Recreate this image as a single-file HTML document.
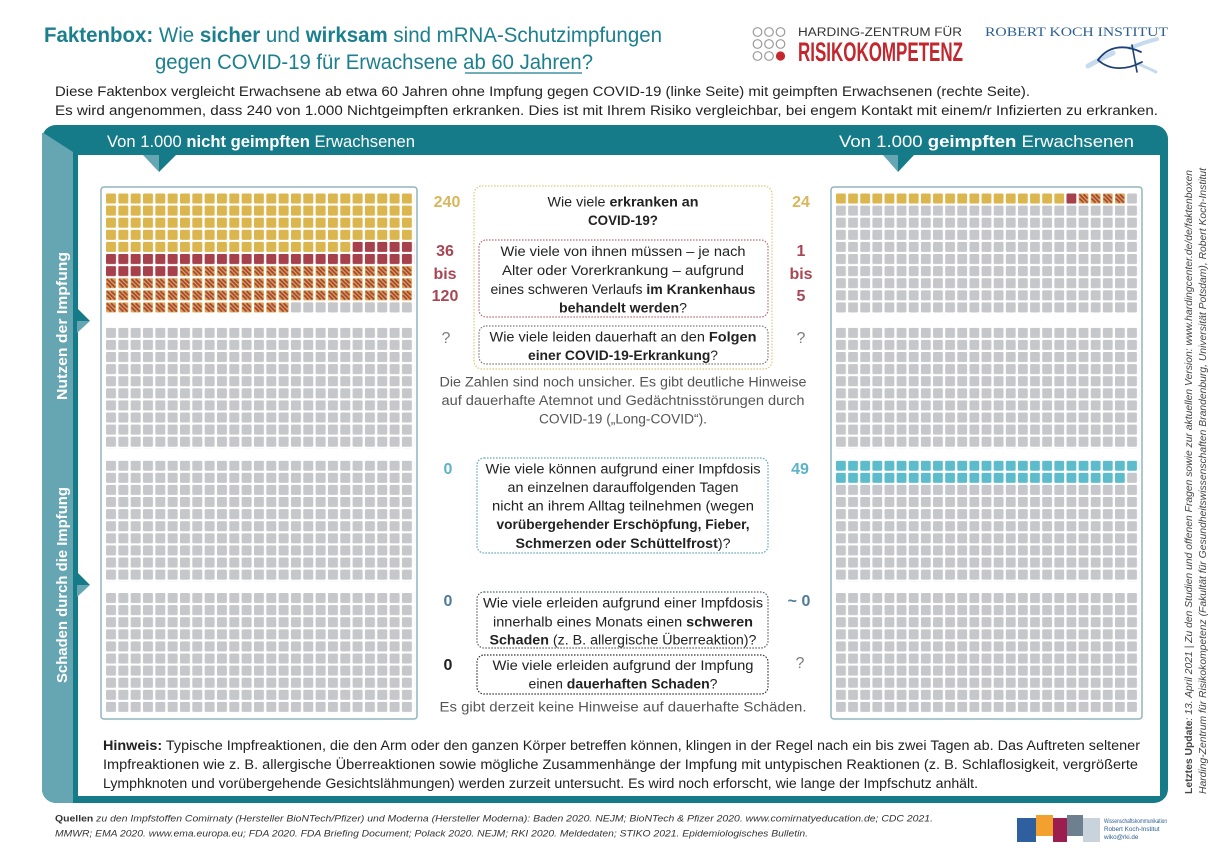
<!DOCTYPE html>
<html><head><meta charset="utf-8"><style>
html,body{margin:0;padding:0;background:#fff;}
svg{display:block;}
text{font-family:"Liberation Sans",sans-serif;}
</style></head><body>
<svg width="1224" height="858" viewBox="0 0 1224 858" xmlns="http://www.w3.org/2000/svg">
<defs>
<pattern id="pG" width="12.33" height="12.1" patternUnits="userSpaceOnUse"><rect width="10" height="10" rx="1.3" fill="#c6c7ca"/></pattern>
<pattern id="pY" width="12.33" height="12.1" patternUnits="userSpaceOnUse"><rect width="10" height="10" rx="1.3" fill="#dbb64f"/></pattern>
<pattern id="pR" width="12.33" height="12.1" patternUnits="userSpaceOnUse"><rect width="10" height="10" rx="1" fill="#a6414b"/></pattern>
<pattern id="pC" width="12.33" height="12.1" patternUnits="userSpaceOnUse"><rect width="10" height="10" rx="1.3" fill="#5dbccc"/></pattern>
<pattern id="pH" width="12.33" height="12.1" patternUnits="userSpaceOnUse"><rect width="10" height="10" rx="1" fill="#dba553"/><path d="M0.8,0.8 L9.2,9.2 M0.8,5 L5,9.2 M5,0.8 L9.2,5" stroke="#a3423c" stroke-width="1.7" fill="none"/></pattern>
</defs>

<!-- Title -->
<text x="44" y="42" font-size="21" fill="#1c7f8e" textLength="618" lengthAdjust="spacingAndGlyphs"><tspan font-weight="bold">Faktenbox:</tspan> Wie <tspan font-weight="bold">sicher</tspan> und <tspan font-weight="bold">wirksam</tspan> sind mRNA-Schutzimpfungen</text>
<text x="155" y="69" font-size="21" fill="#1c7f8e" textLength="438" lengthAdjust="spacingAndGlyphs">gegen COVID-19 für Erwachsene ab 60 Jahren?</text>
<line x1="465" y1="73" x2="582" y2="73" stroke="#1c7f8e" stroke-width="1.3"/>

<!-- Harding logo -->
<g fill="none" stroke="#9a9a9a" stroke-width="1.2">
<circle cx="757.5" cy="32" r="4.3"/><circle cx="769" cy="32" r="4.3"/><circle cx="780.5" cy="32" r="4.3"/>
<circle cx="757.5" cy="44" r="4.3"/><circle cx="769" cy="44" r="4.3"/><circle cx="780.5" cy="44" r="4.3"/>
<circle cx="757.5" cy="56" r="4.3"/><circle cx="769" cy="56" r="4.3"/>
</g>
<circle cx="780.5" cy="56" r="4.6" fill="#c6282f"/>
<text x="798" y="36" font-size="11.5" fill="#333" textLength="164" lengthAdjust="spacingAndGlyphs">HARDING-ZENTRUM FÜR</text>
<text x="798" y="61" font-size="27" font-weight="bold" fill="#c1272d" textLength="165" lengthAdjust="spacingAndGlyphs">RISIKOKOMPETENZ</text>

<!-- RKI logo -->
<text x="985" y="36" font-size="13" fill="#2b5f93" style="font-family:'Liberation Serif',serif" textLength="183" lengthAdjust="spacingAndGlyphs">ROBERT KOCH INSTITUT</text>
<g fill="none" stroke-linecap="round">
<path d="M1088,66 Q1100,59 1113,53" stroke="#bcd5ea" stroke-width="5" opacity="0.85"/>
<path d="M1130,48 Q1145,42 1157,39" stroke="#bcd5ea" stroke-width="4" opacity="0.85"/>
<path d="M1136,63 Q1148,68 1156,72" stroke="#bcd5ea" stroke-width="3" opacity="0.85"/>
<path d="M1098,60 C1108,46 1124,44 1141,52" stroke="#1d3f78" stroke-width="1.8"/>
<path d="M1098,60 C1110,71 1127,70 1142,62" stroke="#1d3f78" stroke-width="1.8"/>
<path d="M1132,45 L1137,72" stroke="#1d3f78" stroke-width="1.6"/>
</g>

<!-- Subtitles -->
<text x="55" y="96" font-size="13.5" fill="#222" textLength="975" lengthAdjust="spacingAndGlyphs">Diese Faktenbox vergleicht Erwachsene ab etwa 60 Jahren ohne Impfung gegen COVID-19 (linke Seite) mit geimpften Erwachsenen (rechte Seite).</text>
<text x="55" y="115" font-size="13.5" fill="#222" textLength="1103" lengthAdjust="spacingAndGlyphs">Es wird angenommen, dass 240 von 1.000 Nichtgeimpften erkranken. Dies ist mit Ihrem Risiko vergleichbar, bei engem Kontakt mit einem/r Infizierten zu erkranken.</text>

<!-- Frame -->
<rect x="42" y="125" width="1126" height="678" rx="14" fill="#167b89"/>
<rect x="78" y="155" width="1082" height="641" fill="#fff"/>
<path d="M43.5,133 L73,152 L73,803 L56,803 A14,14 0 0 1 42,789 L42,133 Z" fill="#66a5b2"/>
<polygon points="143,155 159,155 159,172" fill="#66a5b2"/>
<polygon points="159,155 176,155 159,172" fill="#167b89"/>
<polygon points="883,155 898,155 898,172" fill="#66a5b2"/>
<polygon points="898,155 914,155 898,172" fill="#167b89"/>
<polygon points="77,308 90,321 77,321" fill="#167b89"/>
<polygon points="77,321 90,321 77,333" fill="#66a5b2"/>
<polygon points="77,572 90,585 77,585" fill="#167b89"/>
<polygon points="77,585 90,585 77,597" fill="#66a5b2"/>

<text x="107" y="147" font-size="17" fill="#fff" textLength="308" lengthAdjust="spacingAndGlyphs">Von 1.000 <tspan font-weight="bold">nicht geimpften</tspan> Erwachsenen</text>
<text x="839" y="147" font-size="17" fill="#fff" textLength="295" lengthAdjust="spacingAndGlyphs">Von 1.000 <tspan font-weight="bold">geimpften</tspan> Erwachsenen</text>

<text transform="translate(67,326) rotate(-90)" text-anchor="middle" font-size="15" font-weight="bold" fill="#fff" textLength="148" lengthAdjust="spacingAndGlyphs">Nutzen der Impfung</text>
<text transform="translate(67,585) rotate(-90)" text-anchor="middle" font-size="15" font-weight="bold" fill="#fff" textLength="196" lengthAdjust="spacingAndGlyphs">Schaden durch die Impfung</text>

<!-- Grid boxes -->
<rect x="101" y="187" width="316" height="532" rx="3" fill="#fff" stroke="#8fb5bd" stroke-width="1.5"/>
<rect x="831" y="187" width="311" height="532" rx="3" fill="#fff" stroke="#8fb5bd" stroke-width="1.5"/>

<!-- Left grid -->
<g transform="translate(106,193.5)">
<rect x="0" y="0" width="308.25" height="48.4" fill="url(#pY)"/>
<rect x="0" y="48.4" width="246.6" height="12.1" fill="url(#pY)"/>
<rect x="246.6" y="48.4" width="61.65" height="12.1" fill="url(#pR)"/>
<rect x="0" y="60.5" width="308.25" height="12.1" fill="url(#pR)"/>
<rect x="0" y="72.6" width="73.98" height="12.1" fill="url(#pR)"/>
<rect x="73.98" y="72.6" width="234.27" height="12.1" fill="url(#pH)"/>
<rect x="0" y="84.7" width="308.25" height="24.2" fill="url(#pH)"/>
<rect x="0" y="108.9" width="184.95" height="12.1" fill="url(#pH)"/>
<rect x="184.95" y="108.9" width="123.3" height="12.1" fill="url(#pG)"/>
</g>
<g transform="translate(106,327.8)"><rect width="308.25" height="121" fill="url(#pG)"/></g>
<g transform="translate(106,460.7)"><rect width="308.25" height="121" fill="url(#pG)"/></g>
<g transform="translate(106,593)"><rect width="308.25" height="121" fill="url(#pG)"/></g>

<!-- Right grid -->
<g transform="translate(836,193.5) scale(0.9838,1)">
<rect x="0" y="0" width="234.27" height="12.1" fill="url(#pY)"/>
<rect x="234.27" y="0" width="12.33" height="12.1" fill="url(#pR)"/>
<rect x="246.6" y="0" width="49.32" height="12.1" fill="url(#pH)"/>
<rect x="295.92" y="0" width="12.33" height="12.1" fill="url(#pG)"/>
<rect x="0" y="12.1" width="308.25" height="108.9" fill="url(#pG)"/>
</g>
<g transform="translate(836,327.8) scale(0.9838,1)"><rect width="308.25" height="121" fill="url(#pG)"/></g>
<g transform="translate(836,460.7) scale(0.9838,1)">
<rect x="0" y="0" width="308.25" height="12.1" fill="url(#pC)"/>
<rect x="0" y="12.1" width="295.92" height="12.1" fill="url(#pC)"/>
<rect x="295.92" y="12.1" width="12.33" height="12.1" fill="url(#pG)"/>
<rect x="0" y="24.2" width="308.25" height="96.8" fill="url(#pG)"/>
</g>
<g transform="translate(836,593) scale(0.9838,1)"><rect width="308.25" height="121" fill="url(#pG)"/></g>

<!-- Middle boxes -->
<g fill="none" stroke-width="1.2" stroke-dasharray="1.5 1.5">
<rect x="474" y="186" width="298" height="183" rx="8" stroke="#e0c77e"/>
<rect x="479" y="240" width="289" height="77" rx="7" stroke="#b86a72"/>
<rect x="479" y="326" width="289" height="38" rx="7" stroke="#7a7a7a"/>
<rect x="477" y="458" width="291" height="95" rx="7" stroke="#5ba7b8"/>
<rect x="477" y="592" width="291" height="56" rx="7" stroke="#55606e"/>
<rect x="477" y="655" width="291" height="39" rx="7" stroke="#333"/>
</g>

<g font-size="13.5" fill="#222" text-anchor="middle">
<text x="623" y="206.5" textLength="151" lengthAdjust="spacingAndGlyphs">Wie viele <tspan font-weight="bold">erkranken an</tspan></text>
<text x="623" y="225" textLength="70" lengthAdjust="spacingAndGlyphs" font-weight="bold">COVID-19?</text>
<text x="623" y="256" textLength="245" lengthAdjust="spacingAndGlyphs">Wie viele von ihnen müssen – je nach</text>
<text x="623" y="275" textLength="242" lengthAdjust="spacingAndGlyphs">Alter oder Vorerkrankung – aufgrund</text>
<text x="623" y="294" textLength="265" lengthAdjust="spacingAndGlyphs">eines schweren Verlaufs <tspan font-weight="bold">im Krankenhaus</tspan></text>
<text x="623" y="312.5" textLength="128" lengthAdjust="spacingAndGlyphs"><tspan font-weight="bold">behandelt werden</tspan>?</text>
<text x="623" y="341.5" textLength="267" lengthAdjust="spacingAndGlyphs">Wie viele leiden dauerhaft an den <tspan font-weight="bold">Folgen</tspan></text>
<text x="623" y="360" textLength="190" lengthAdjust="spacingAndGlyphs"><tspan font-weight="bold">einer COVID-19-Erkrankung</tspan>?</text>
<text x="623" y="386.5" fill="#555" textLength="367" lengthAdjust="spacingAndGlyphs">Die Zahlen sind noch unsicher. Es gibt deutliche Hinweise</text>
<text x="623" y="405" fill="#555" textLength="363" lengthAdjust="spacingAndGlyphs">auf dauerhafte Atemnot und Gedächtnisstörungen durch</text>
<text x="623" y="423.5" fill="#555" textLength="168" lengthAdjust="spacingAndGlyphs">COVID-19 („Long-COVID“).</text>
<text x="623" y="473.5" textLength="275" lengthAdjust="spacingAndGlyphs">Wie viele können aufgrund einer Impfdosis</text>
<text x="623" y="492" textLength="231" lengthAdjust="spacingAndGlyphs">an einzelnen darauffolgenden Tagen</text>
<text x="623" y="510.5" textLength="262" lengthAdjust="spacingAndGlyphs">nicht an ihrem Alltag teilnehmen (wegen</text>
<text x="623" y="529" textLength="253" lengthAdjust="spacingAndGlyphs" font-weight="bold">vorübergehender Erschöpfung, Fieber,</text>
<text x="623" y="548" textLength="215" lengthAdjust="spacingAndGlyphs"><tspan font-weight="bold">Schmerzen oder Schüttelfrost</tspan>)?</text>
<text x="623" y="607.5" textLength="280" lengthAdjust="spacingAndGlyphs">Wie viele erleiden aufgrund einer Impfdosis</text>
<text x="623" y="626.5" textLength="260" lengthAdjust="spacingAndGlyphs">innerhalb eines Monats einen <tspan font-weight="bold">schweren</tspan></text>
<text x="623" y="644.5" textLength="267" lengthAdjust="spacingAndGlyphs"><tspan font-weight="bold">Schaden</tspan> (z. B. allergische Überreaktion)?</text>
<text x="623" y="670" textLength="261" lengthAdjust="spacingAndGlyphs">Wie viele erleiden aufgrund der Impfung</text>
<text x="623" y="688.5" textLength="189" lengthAdjust="spacingAndGlyphs">einen <tspan font-weight="bold">dauerhaften Schaden</tspan>?</text>
<text x="623" y="711.5" fill="#555" textLength="367" lengthAdjust="spacingAndGlyphs">Es gibt derzeit keine Hinweise auf dauerhafte Schäden.</text>
</g>

<!-- Numbers -->
<g font-size="16" font-weight="bold" text-anchor="middle">
<text x="447" y="207" fill="#d8b65c">240</text>
<text x="801" y="207" fill="#d8b65c">24</text>
<text x="445" y="256" fill="#a84653">36</text>
<text x="445" y="279" fill="#a84653">bis</text>
<text x="445" y="301" fill="#a84653">120</text>
<text x="801" y="256" fill="#a84653">1</text>
<text x="801" y="279" fill="#a84653">bis</text>
<text x="801" y="301" fill="#a84653">5</text>
<text x="446" y="343" fill="#7b7b7b" font-weight="normal">?</text>
<text x="801" y="343" fill="#7b7b7b" font-weight="normal">?</text>
<text x="448" y="474" fill="#5ab4c6">0</text>
<text x="800" y="474" fill="#5ab4c6">49</text>
<text x="448" y="606" fill="#4f7b97">0</text>
<text x="799" y="606" fill="#4f7b97">~ 0</text>
<text x="448" y="670" fill="#222">0</text>
<text x="800" y="668" fill="#7b7b7b" font-weight="normal">?</text>
</g>

<!-- Hinweis -->
<g font-size="13.5" fill="#222">
<text x="103" y="750" textLength="1037" lengthAdjust="spacingAndGlyphs"><tspan font-weight="bold">Hinweis:</tspan> Typische Impfreaktionen, die den Arm oder den ganzen Körper betreffen können, klingen in der Regel nach ein bis zwei Tagen ab. Das Auftreten seltener</text>
<text x="103" y="769" textLength="1035" lengthAdjust="spacingAndGlyphs">Impfreaktionen wie z. B. allergische Überreaktionen sowie mögliche Zusammenhänge der Impfung mit untypischen Reaktionen (z. B. Schlaflosigkeit, vergrößerte</text>
<text x="103" y="788" textLength="875" lengthAdjust="spacingAndGlyphs">Lymphknoten und vorübergehende Gesichtslähmungen) werden zurzeit untersucht. Es wird noch erforscht, wie lange der Impfschutz anhält.</text>
</g>

<!-- Quellen -->
<g font-size="9.5" fill="#333">
<text x="55" y="821.5" textLength="878" lengthAdjust="spacingAndGlyphs"><tspan font-weight="bold">Quellen</tspan><tspan font-style="italic"> zu den Impfstoffen Comirnaty (Hersteller BioNTech/Pfizer) und Moderna (Hersteller Moderna): Baden 2020. NEJM; BioNTech &amp; Pfizer 2020. www.comirnatyeducation.de; CDC 2021.</tspan></text>
<text x="55" y="836.5" font-style="italic" textLength="753" lengthAdjust="spacingAndGlyphs">MMWR; EMA 2020. www.ema.europa.eu; FDA 2020. FDA Briefing Document; Polack 2020. NEJM; RKI 2020. Meldedaten; STIKO 2021. Epidemiologisches Bulletin.</text>
</g>

<!-- Wiko logo -->
<rect x="1017" y="818" width="19" height="24" fill="#2f5f9e"/>
<rect x="1036" y="815" width="17" height="21" fill="#f2a02e"/>
<rect x="1053" y="818" width="14" height="24" fill="#9b1e4f"/>
<rect x="1067" y="815" width="16" height="21" fill="#6e8090"/>
<rect x="1083" y="818" width="17" height="24" fill="#c9d3dc"/>
<g font-size="6.3" fill="#2c5d8f">
<text x="1104" y="823" textLength="63" lengthAdjust="spacingAndGlyphs">Wissenschaftskommunikation</text>
<text x="1104" y="831">Robert Koch-Institut</text>
<text x="1104" y="839">wiko@rki.de</text>
</g>

<!-- Right vertical text -->
<text transform="translate(1192,794) rotate(-90)" font-size="10" fill="#444" textLength="624" lengthAdjust="spacingAndGlyphs"><tspan font-weight="bold">Letztes Update</tspan><tspan font-style="italic">: 13. April 2021 | Zu den Studien und offenen Fragen sowie zur aktuellen Version: www.hardingcenter.de/de/faktenboxen</tspan></text>
<text transform="translate(1206,794) rotate(-90)" font-size="10" fill="#444" font-style="italic" textLength="626" lengthAdjust="spacingAndGlyphs">Harding-Zentrum für Risikokompetenz (Fakultät für Gesundheitswissenschaften Brandenburg, Universität Potsdam), Robert Koch-Institut</text>
</svg>
</body></html>
